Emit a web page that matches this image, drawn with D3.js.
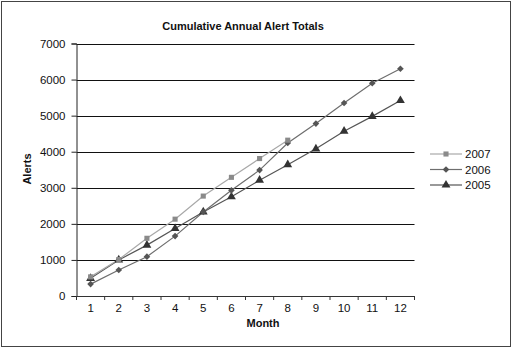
<!DOCTYPE html>
<html>
<head>
<meta charset="utf-8">
<script src="https://cdn.jsdelivr.net/npm/d3@7"></script>
<style>
  html, body { margin: 0; padding: 0; background: #fff; }
  svg { display: block; font-family: "Liberation Sans", Arial, sans-serif; }
</style>
</head>
<body>
<svg id="chart" width="512" height="348"></svg>
<script>
// Cumulative alerts by month, one series per year
const months = [1, 2, 3, 4, 5, 6, 7, 8, 9, 10, 11, 12];
const alerts2007 = [530, 1010, 1600, 2130, 2770, 3290, 3810, 4320];
const alerts2006 = [330, 720, 1090, 1660, 2330, 2930, 3490, 4240, 4780, 5350, 5900, 6300];
const alerts2005 = [490, 1000, 1410, 1870, 2330, 2750, 3210, 3640, 4080, 4570, 4980, 5420];
const yTicks = [0, 1000, 2000, 3000, 4000, 5000, 6000, 7000];
const seriesNames = ["2007", "2006", "2005"];

const svg = d3.select("#chart");

// frame around the whole chart
svg.append("rect")
  .attr("x", 1.5).attr("y", 1.5).attr("width", 509).attr("height", 345)
  .attr("fill", "#fff").attr("stroke", "#444").attr("stroke-width", 1);

const plot = { left: 76.5, right: 414.5, top: 43.5, bottom: 296 };

const x = d3.scaleBand().domain(months).range([plot.left, plot.right]);
const y = d3.scaleLinear().domain([0, 7000]).range([plot.bottom, plot.top]);
const cx = m => x(m) + x.bandwidth() / 2;

// horizontal gridlines
svg.append("g").selectAll("line")
  .data(yTicks.filter(t => t > 0))
  .join("line")
  .attr("x1", plot.left).attr("x2", plot.right)
  .attr("y1", d => Math.round(y(d)) + 0.5).attr("y2", d => Math.round(y(d)) + 0.5)
  .attr("stroke", "#111").attr("stroke-width", 1.2);

// y axis
const yAxis = svg.append("g")
  .attr("transform", `translate(${plot.left},0)`)
  .call(d3.axisLeft(y).tickValues(yTicks).tickSize(5).tickPadding(6).tickFormat(d3.format("d")));
yAxis.select(".domain").attr("stroke", "#222");
yAxis.selectAll(".tick line").attr("stroke", "#222");
yAxis.selectAll(".tick text").attr("font-size", 11.5).attr("fill", "#111")
  .attr("font-family", "Liberation Sans, Arial, sans-serif");

// x axis with ticks between categories
const xAxis = svg.append("g")
  .attr("transform", `translate(0,${plot.bottom})`)
  .call(d3.axisBottom(x).tickSize(0).tickPadding(8));
xAxis.select(".domain").attr("stroke", "#333");
xAxis.selectAll(".tick text").attr("font-size", 11.5).attr("fill", "#111")
  .attr("font-family", "Liberation Sans, Arial, sans-serif");
xAxis.selectAll("line.sep")
  .data(months.concat([13]))
  .join("line").attr("class", "sep")
  .attr("x1", d => d <= 12 ? x(d) : plot.right)
  .attr("x2", d => d <= 12 ? x(d) : plot.right)
  .attr("y1", 0).attr("y2", 4)
  .attr("stroke", "#333");

// series (diamond = square turned 45 degrees)
const series = [
  { name: "2007", values: alerts2007, line: "#a8a8a8", mark: "#8a8a8a", symbol: d3.symbolSquare, size: 26, rot: 0 },
  { name: "2006", values: alerts2006, line: "#6e6e6e", mark: "#555", symbol: d3.symbolSquare, size: 22, rot: 45 },
  { name: "2005", values: alerts2005, line: "#555", mark: "#333", symbol: d3.symbolTriangle, size: 34, rot: 0 }
];

const line = d3.line().x((d, i) => cx(months[i])).y(d => y(d));

series.slice().reverse().forEach(s => {
  svg.append("path")
    .datum(s.values)
    .attr("d", line)
    .attr("fill", "none")
    .attr("stroke", s.line)
    .attr("stroke-width", 1.2);
});
series.slice().reverse().forEach(s => {
  svg.append("g").selectAll("path")
    .data(s.values)
    .join("path")
    .attr("transform", (d, i) => `translate(${cx(months[i])},${y(d)}) rotate(${s.rot})`)
    .attr("d", d3.symbol().type(s.symbol).size(s.size))
    .attr("fill", s.mark);
});

// legend
const legend = svg.append("g");
series.forEach((s, i) => {
  const ly = 154 + i * 15.5;
  legend.append("line")
    .attr("x1", 430).attr("x2", 462).attr("y1", ly).attr("y2", ly)
    .attr("stroke", s.line).attr("stroke-width", 1.2);
  legend.append("path")
    .attr("transform", `translate(446,${ly}) rotate(${s.rot})`)
    .attr("d", d3.symbol().type(s.symbol).size(s.size))
    .attr("fill", s.mark);
  legend.append("text")
    .attr("x", 465).attr("y", ly + 4)
    .attr("font-size", 11.5).attr("fill", "#111")
    .text(seriesNames[i]);
});

// titles
svg.append("text")
  .attr("x", 243).attr("y", 30)
  .attr("text-anchor", "middle")
  .attr("font-size", 11).attr("font-weight", "bold").attr("fill", "#111")
  .text("Cumulative Annual Alert Totals");

svg.append("text")
  .attr("transform", "translate(31,169) rotate(-90)")
  .attr("text-anchor", "middle")
  .attr("font-size", 11).attr("font-weight", "bold").attr("fill", "#111")
  .text("Alerts");

svg.append("text")
  .attr("x", 263).attr("y", 327)
  .attr("text-anchor", "middle")
  .attr("font-size", 11).attr("font-weight", "bold").attr("fill", "#111")
  .text("Month");
</script>
</body>
</html>
